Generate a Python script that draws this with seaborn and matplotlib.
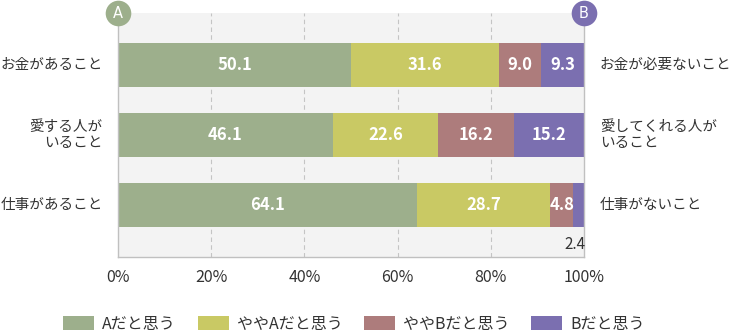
import matplotlib
matplotlib.use("Agg")
import matplotlib.pyplot as plt
import seaborn as sns
import pandas as pd
import numpy as np
from matplotlib.patches import Patch

left_labels = ["お金があること", "愛する人が\nいること", "仕事があること"]
right_labels = ["お金が必要ないこと", "愛してくれる人が\nいること", "仕事がないこと"]
series_names = ["Aだと思う", "ややAだと思う", "ややBだと思う", "Bだと思う"]
a_vals = [50.1, 46.1, 64.1]
ya_vals = [31.6, 22.6, 28.7]
yb_vals = [9.0, 16.2, 4.8]
b_vals = [9.3, 15.2, 2.4]
x_ticks = [0, 20, 40, 60, 80, 100]
x_tick_labels = ["0%", "20%", "40%", "60%", "80%", "100%"]

colors = ["#9daf8c", "#c9c964", "#ad7c7c", "#7b6fb0"]
text_dark = "#333333"

sns.set_theme(style="white")
plt.rcParams["font.family"] = ["Noto Sans CJK JP", "DejaVu Sans"]

vals = np.array([a_vals, ya_vals, yb_vals, b_vals])
cum = np.cumsum(vals, axis=0)
starts = cum - vals

fig = plt.figure(figsize=(7.35, 3.33), dpi=100)
ax = fig.add_axes([118/735, 1-257/333, (584-118)/735, (257-13)/333])
ax.set_facecolor("#f3f3f3")

rows = [str(i) for i in range(len(left_labels))]
for k in range(3, -1, -1):
    df = pd.DataFrame({"row": rows, "val": cum[k]})
    sns.barplot(data=df, x="val", y="row", orient="h", color=colors[k],
                width=0.63, saturation=1, ax=ax, zorder=3, linewidth=0)

ax.set_xlim(0, 100)
ax.set_ylim(2.75, -0.75)
ax.set_xlabel("")
ax.set_ylabel("")
ax.set_yticks([])
ax.set_xticks(x_ticks)
ax.set_xticklabels(x_tick_labels, fontsize=11.5, color=text_dark)
ax.tick_params(axis="x", length=0, pad=9)
for x in x_ticks[1:-1]:
    ax.axvline(x, color="#c4c4c4", lw=0.8, ls=(0, (4, 3)), zorder=1)
for s in ["left", "right", "bottom"]:
    ax.spines[s].set_color("#c0c0c0")
    ax.spines[s].set_linewidth(1)
    ax.spines[s].set_zorder(4)
ax.spines["top"].set_visible(False)

# value labels
for i in range(len(rows)):
    for k in range(4):
        v = vals[k, i]
        cx = starts[k, i] + v / 2
        if v < 3:
            ax.text(cum[k, i] + 0.3, i + 0.57, f"{v:.1f}", ha="right", va="center",
                    fontsize=11, color=text_dark, zorder=5)
        else:
            ax.text(cx, i, f"{v:.1f}", ha="center", va="center", fontsize=12,
                    color="white", fontweight="bold", zorder=5)
    ax.text(-3.3, i, left_labels[i], ha="right", va="center", fontsize=10.5,
            color=text_dark, multialignment="right")
    ax.text(103.4, i, right_labels[i], ha="left", va="center", fontsize=10.5,
            color=text_dark, multialignment="left")

# A / B circles
for xpos, lab, col in [(0, "A", colors[0]), (100, "B", colors[3])]:
    ax.scatter([xpos], [-0.75], s=340, color=col, clip_on=False, zorder=6,
               linewidths=0)
    ax.text(xpos, -0.75, lab, ha="center", va="center", color="white",
            fontsize=10.5, zorder=7, fontfamily=["DejaVu Sans"])

handles = [Patch(facecolor=c, edgecolor="none") for c in colors]
fig.legend(handles, series_names, loc="center", ncol=4,
           bbox_to_anchor=(354/735, 9/333), frameon=False, fontsize=11.5,
           handlelength=1.95, handleheight=1.05, columnspacing=1.35,
           handletextpad=0.5, labelcolor=text_dark, borderpad=0, borderaxespad=0)

fig.savefig("out.png", dpi=100, facecolor="white")
